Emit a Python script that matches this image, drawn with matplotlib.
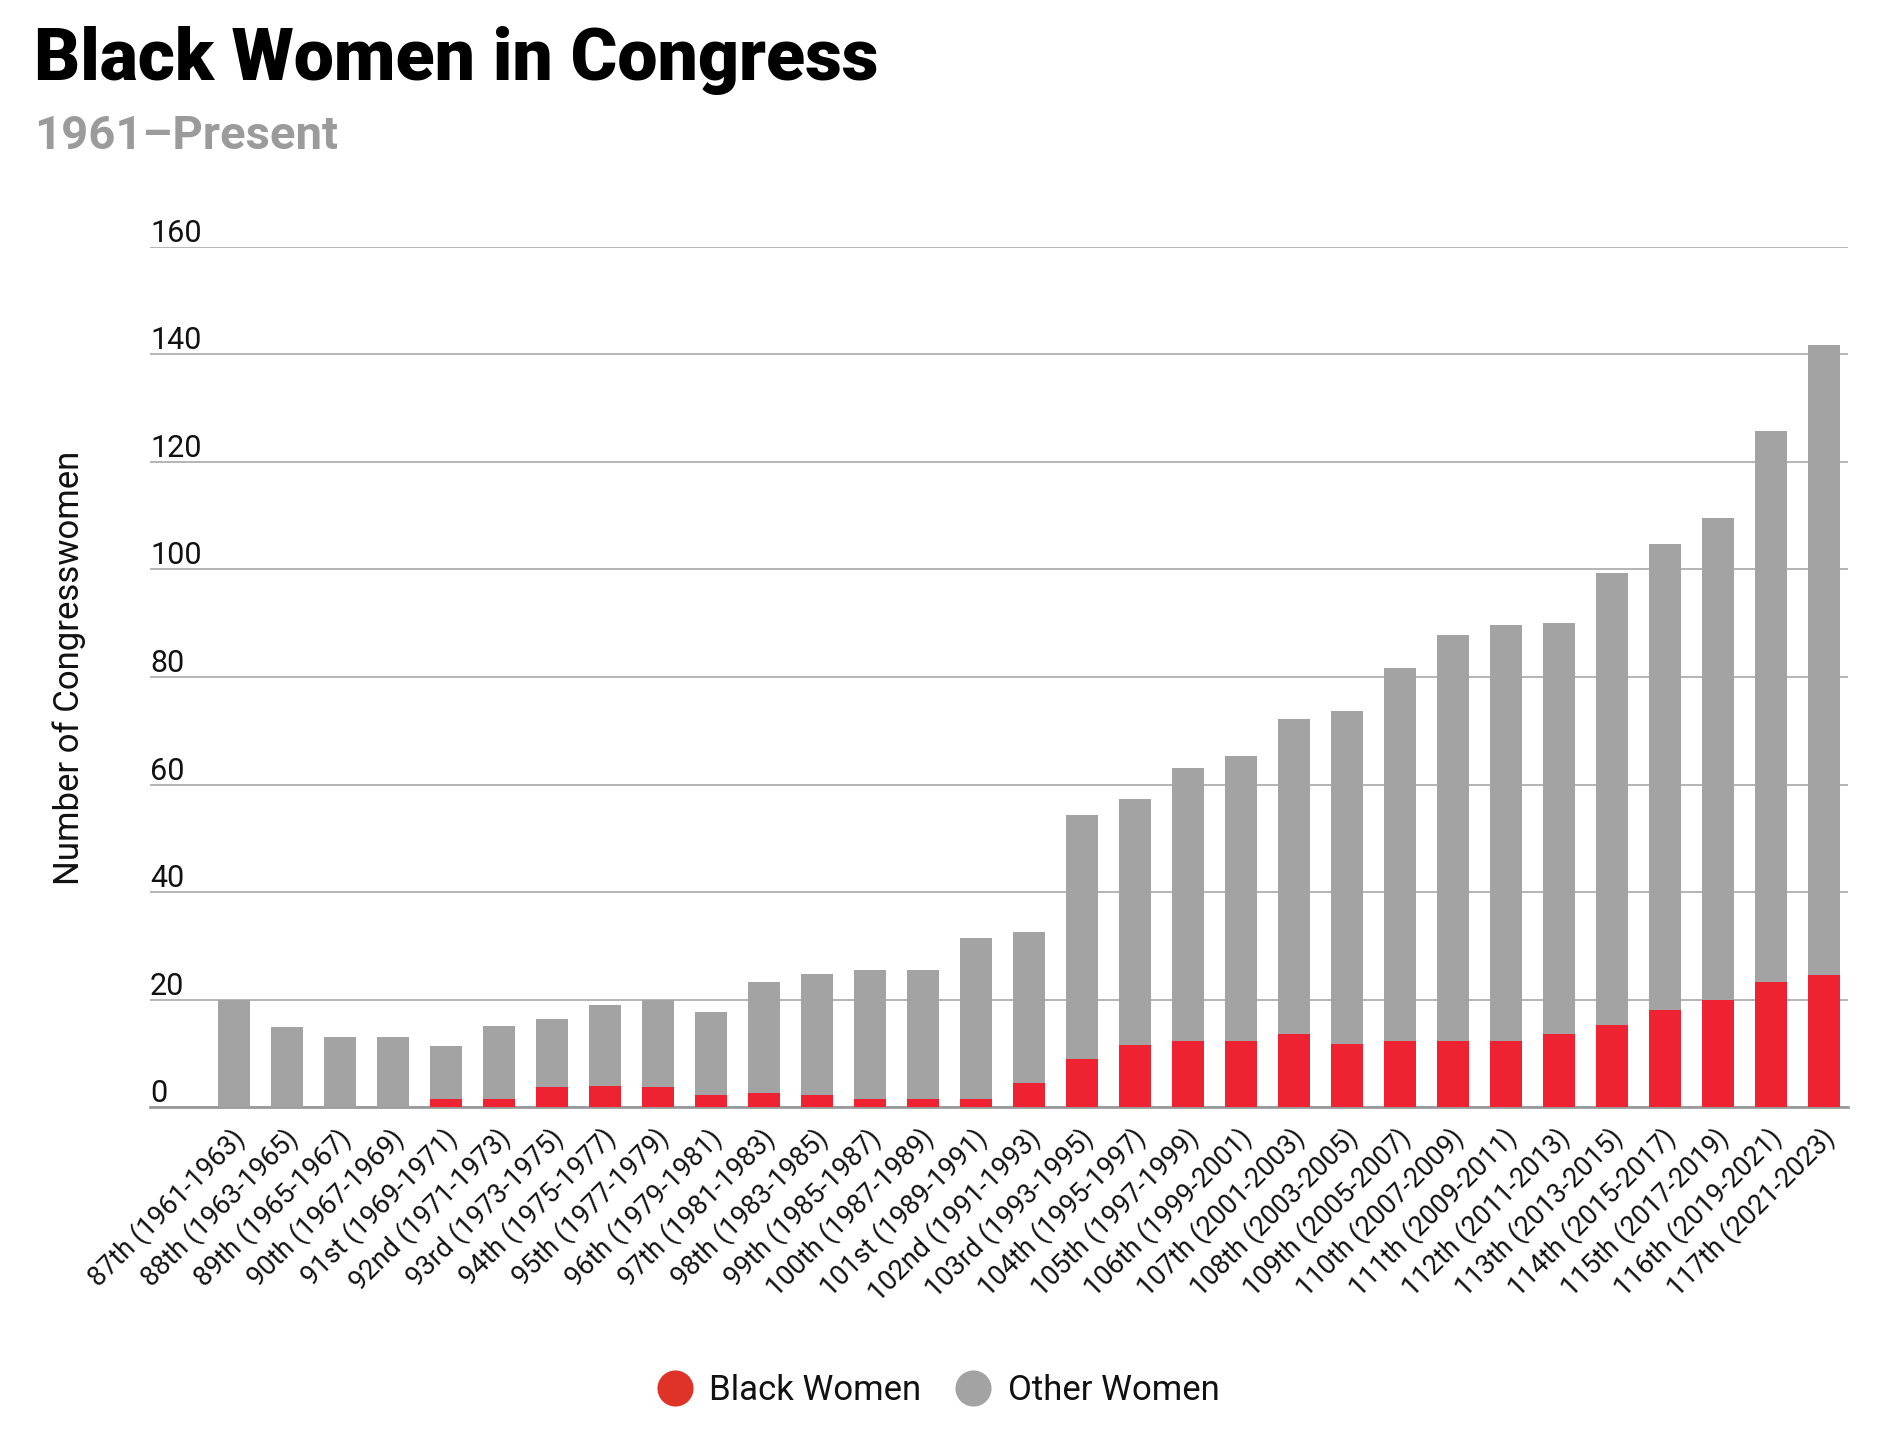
import matplotlib
matplotlib.use("Agg")
import matplotlib.pyplot as plt
from matplotlib.lines import Line2D
from matplotlib.transforms import ScaledTranslation
import numpy as np

plt.rcParams['font.family'] = ['Roboto', 'DejaVu Sans']

congresses = ["87th (1961-1963)", "88th (1963-1965)", "89th (1965-1967)", "90th (1967-1969)",
              "91st (1969-1971)", "92nd (1971-1973)", "93rd (1973-1975)", "94th (1975-1977)",
              "95th (1977-1979)", "96th (1979-1981)", "97th (1981-1983)", "98th (1983-1985)",
              "99th (1985-1987)", "100th (1987-1989)", "101st (1989-1991)", "102nd (1991-1993)",
              "103rd (1993-1995)", "104th (1995-1997)", "105th (1997-1999)", "106th (1999-2001)",
              "107th (2001-2003)", "108th (2003-2005)", "109th (2005-2007)", "110th (2007-2009)",
              "111th (2009-2011)", "112th (2011-2013)", "113th (2013-2015)", "114th (2015-2017)",
              "115th (2017-2019)", "116th (2019-2021)", "117th (2021-2023)"]

black_women = [0, 0, 0, 0, 1.5, 1.5, 3.7, 4.0, 3.7, 2.2, 2.7, 2.2, 1.5, 1.5, 1.5, 4.6,
               9.0, 11.6, 12.3, 12.3, 13.6, 11.7, 12.3, 12.3, 12.3, 13.6, 15.3, 18.1, 20.0, 23.3, 24.6]
other_women = [20, 15, 13, 13, 9.9, 13.6, 12.7, 15.0, 16.3, 15.6, 20.5, 22.5, 24.0, 24.0, 30.0, 28.0,
               45.3, 45.7, 50.8, 53.0, 58.6, 61.9, 69.4, 75.6, 77.3, 76.4, 84.0, 86.7, 89.5, 102.4, 117.2]

y_ticks = [0, 20, 40, 60, 80, 100, 120, 140, 160]

RED = "#ee2230"
GRAY = "#a3a3a3"
LEG_RED = "#df3328"
GRID = "#a8a8a8"

fig = plt.figure(figsize=(18.85, 14.55), dpi=100)
ax = fig.add_axes([0.0796, 0.239, 0.9008, 0.5914])

x = np.arange(len(congresses))
ax.bar(x, black_women, width=0.6, color=RED, zorder=3, linewidth=0)
ax.bar(x, other_women, width=0.6, bottom=black_women, color=GRAY, zorder=3, linewidth=0)

ax.set_xlim(-1.577, len(congresses) - 1 + 0.46)
ax.set_ylim(0, 160)
ax.set_yticks(y_ticks)
ax.set_yticklabels([str(t) for t in y_ticks])
ax.yaxis.grid(True, color=GRID, linewidth=1.2, zorder=0)
ax.set_axisbelow(True)
for s in ['top', 'right', 'left']:
    ax.spines[s].set_visible(False)
ax.spines['bottom'].set_color("#9a9a9a")
ax.spines['bottom'].set_linewidth(2.0)
ax.spines['bottom'].set_zorder(2)

ax.tick_params(axis='y', length=0, pad=0, labelsize=22, labelcolor='#111111')
for lbl in ax.get_yticklabels():
    lbl.set_ha('left')
    lbl.set_va('baseline')
    lbl.set_transform(lbl.get_transform() + ScaledTranslation(0, 5 / 100, fig.dpi_scale_trans))

ax.set_xticks(x)
ax.set_xticklabels(congresses, rotation=45, ha='right', va='center', rotation_mode='anchor')
ax.tick_params(axis='x', length=0, pad=19, labelsize=19.5, labelcolor='#111111')
for lbl in ax.get_xticklabels():
    lbl.set_transform(lbl.get_transform() + ScaledTranslation(7 / 100, 0, fig.dpi_scale_trans))

ax.set_ylabel("Number of Congresswomen", fontsize=25, color='#111111')
ax.yaxis.set_label_coords(-0.038, 0.5105)

fig.text(0.018, 0.945, "Black Women in Congress", fontsize=51.5, fontweight='heavy',
         color='black', va='baseline', ha='left')
fig.text(0.018, 0.8976, "1961\u2013Present", fontsize=34, fontweight='bold',
         color='#9b9b9b', va='baseline', ha='left')

handles = [Line2D([], [], marker='o', linestyle='none', markersize=26, color=LEG_RED, markeredgewidth=0),
           Line2D([], [], marker='o', linestyle='none', markersize=26, color=GRAY, markeredgewidth=0)]
fig.legend(handles, ["Black Women", "Other Women"], loc='center', bbox_to_anchor=(0.497, 0.044),
           ncol=2, frameon=False, fontsize=25, handletextpad=0.4, columnspacing=0.9,
           handlelength=1.2, labelcolor='#111111')

fig.savefig("out.png", dpi=100)
